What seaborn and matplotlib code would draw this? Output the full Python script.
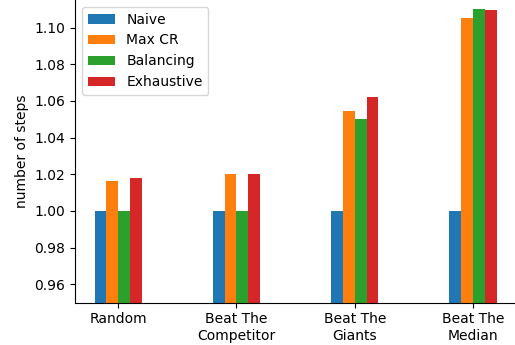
import matplotlib
matplotlib.use("Agg")
import matplotlib.pyplot as plt
import seaborn as sns
import pandas as pd

categories = ["Random", "Beat The\nCompetitor", "Beat The\nGiants", "Beat The\nMedian"]
methods = ["Naive", "Max CR", "Balancing", "Exhaustive"]
naive = [1.000, 1.000, 1.000, 1.000]
max_cr = [1.0165, 1.020, 1.0545, 1.105]
balancing = [1.000, 1.000, 1.050, 1.110]
exhaustive = [1.018, 1.020, 1.062, 1.1095]
colors = ["#1f77b4", "#ff7f0e", "#2ca02c", "#d62728"]

rows = []
for method, vals in zip(methods, [naive, max_cr, balancing, exhaustive]):
    for cat, v in zip(categories, vals):
        rows.append({"scenario": cat, "method": method, "steps": v})
df = pd.DataFrame(rows)

fig = plt.figure(figsize=(5.15, 3.45), dpi=100)
ax = fig.add_axes([75 / 515, 42.3 / 345, 1 - 75 / 515, 1 - 42.3 / 345])

sns.barplot(data=df, x="scenario", y="steps", hue="method", order=categories,
            hue_order=methods, palette=colors, saturation=1, width=0.4,
            errorbar=None, ax=ax, linewidth=0)

ax.set_ylim(0.95, 1.115)
ax.set_xlim(-0.365, 3.355)
ax.set_yticks([0.96, 0.98, 1.00, 1.02, 1.04, 1.06, 1.08, 1.10])
ax.set_ylabel("number of steps", fontsize=10)
ax.set_xlabel("")
ax.tick_params(labelsize=10)
ax.spines["top"].set_visible(False)
ax.spines["right"].set_visible(False)
ax.legend(loc="upper left", fontsize=10, title=None)

fig.savefig("out.png", dpi=100)
